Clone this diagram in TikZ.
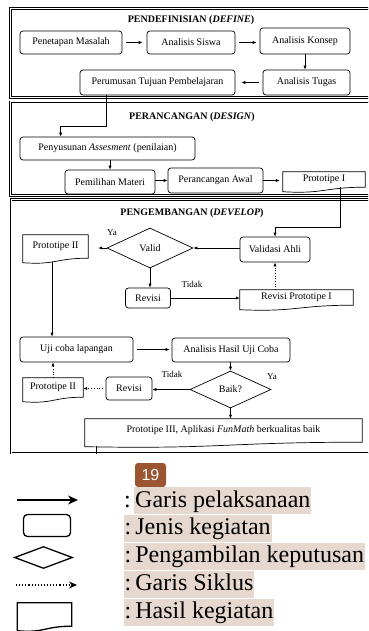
\documentclass[tikz,border=0pt]{standalone}
\usepackage{fontspec}
\setmainfont{Liberation Serif}
\newfontfamily\badgefont{Liberation Sans}
\usetikzlibrary{calc,shapes.geometric,arrows.meta}
\definecolor{badgebrown}{HTML}{9B5631}
\definecolor{hlbeige}{HTML}{E6D8CF}

\begin{document}
\begin{tikzpicture}[x=1pt,y=-1pt,
    >={Latex[length=4pt,width=3.2pt]},
    every node/.style={font=\fontsize{10}{12}\selectfont},
    kotak/.style={draw,rounded corners=3pt,line width=0.7pt,inner sep=1pt},
    putusan/.style={draw,diamond,line width=0.7pt,inner sep=0pt},
    hasil/.style={inner sep=1pt},
    bingkai/.style={draw,double,line width=0.9pt,double distance=1pt},
    judul/.style={font=\fontsize{10}{12}\selectfont\bfseries},
    ket/.style={font=\fontsize{9}{11}\selectfont},
    alur/.style={->,line width=0.7pt},
    siklus/.style={->,line width=0.7pt,dotted},
    hl/.style={fill=hlbeige,inner xsep=1pt,inner ysep=0pt,text height=20pt,text depth=7pt,anchor=west,font=\fontsize{24}{28}\selectfont}]
  \useasboundingbox (0,0) rectangle (368,631);
  \clip (0,0) rectangle (368,631);

  % bingkai tahap
  \draw[bingkai] (10.8,8.7) rectangle (390,97.5);
  \draw[bingkai] (10.8,102) rectangle (390,195.5);
  \draw[bingkai] (11,199.5) rectangle (390,453);

  % define
  \node[judul] (tDefine) at (191,20.5) {PENDEFINISIAN (\textit{DEFINE})};
  \node[kotak,minimum width=102pt,minimum height=23pt] (masalah) at (71,42.5) {Penetapan Masalah};
  \node[kotak,minimum width=88pt,minimum height=23pt] (siswa) at (191,42.5) {Analisis Siswa};
  \node[kotak,minimum width=90pt,minimum height=26pt] (konsep) at (305,41) {Analisis Konsep};
  \node[kotak,minimum width=87pt,minimum height=25pt] (tugas) at (306.5,82.5) {Analisis Tugas};
  \node[kotak,minimum width=155pt,minimum height=25pt] (tujuan) at (157.5,82.5) {Perumusan Tujuan Pembelajaran};
  \draw[alur,shorten <=4pt,shorten >=4pt] (masalah.east) -- (siswa.west);
  \draw[alur,shorten <=4pt,shorten >=3pt] (siswa.east) -- (siswa.east -| konsep.west);
  \draw[alur] (konsep.south) -- (konsep.south |- tugas.north);
  \draw[alur,shorten <=4pt,shorten >=6pt] (tugas.west) -- (tujuan.east);

  % design
  \node[judul] (tDesign) at (192,117) {PERANCANGAN (\textit{DESIGN})};
  \node[kotak,minimum width=175pt,minimum height=23pt] (asesmen) at (107.5,148.5) {Penyusunan \textit{Assesment} (penilaian)};
  \node[kotak,minimum width=90pt,minimum height=24pt] (materi) at (110,182) {Pemilihan Materi};
  \node[kotak,minimum width=95pt,minimum height=25pt] (awal) at (215.5,180.5) {Perancangan Awal};
  \node[hasil,minimum width=82pt,minimum height=15pt] (protoI) at (324,179.5) {Prototipe I};
  \coordinate (tujuanKaki) at ($(tujuan.south west)+(27,0)$);
  \draw[alur] (tujuanKaki) -- ++(0,31) -| ($(asesmen.north west)+(41,0)$);
  \draw[alur] (materi.north |- asesmen.south) -- (materi.north);
  \draw[alur] (awal.west -| materi.east) -- (awal.west);
  \draw[alur,shorten >=3pt] (awal.east) -- (awal.east -| protoI.west);

  % develop
  \node[judul] (tDevelop) at (192,213) {PENGEMBANGAN (\textit{DEVELOP})};
  \node[kotak,minimum width=70pt,minimum height=25pt] (validasi) at (275,249.5) {Validasi Ahli};
  \node[putusan,minimum width=86pt,minimum height=40pt] (valid) at (150,248) {Valid};
  \node[hasil,minimum width=65pt,minimum height=23pt] (protoIIa) at (55.5,246.5) {Prototipe II};
  \node[kotak,minimum width=45pt,minimum height=20pt] (revisiA) at (148,298) {Revisi};
  \node[hasil,minimum width=113pt,minimum height=15pt] (revProtoI) at (296.5,297.5) {Revisi Prototipe I};
  \node[kotak,minimum width=113pt,minimum height=25pt] (ujicoba) at (76.5,349.5) {Uji coba lapangan};
  \node[kotak,minimum width=118pt,minimum height=24pt] (hasilUji) at (231,350) {Analisis Hasil Uji Coba};
  \node[putusan,minimum width=81pt,minimum height=37pt] (baik) at (230.5,389.5) {Baik?};
  \node[kotak,minimum width=46pt,minimum height=23pt] (revisiB) at (129,388.5) {Revisi};
  \node[hasil,minimum width=60pt,minimum height=19pt] (protoIIb) at (53,387.5) {Prototipe II};
  \node[hasil,minimum width=277pt,minimum height=23pt] (protoIII) at (223.5,430.5) {Prototipe III, Aplikasi \textit{FunMath} berkualitas baik};
  \node[ket] (yaA) at (112,233) {Ya};
  \node[ket] (tidakA) at (192,284) {Tidak};
  \node[ket] (tidakB) at (172,374) {Tidak};
  \node[ket] (yaB) at (272,377) {Ya};

  \coordinate (protoIKaki) at ($(protoI.south)+(16,0)$);
  \draw[alur] (protoIKaki) -- ++(0,40) -| (validasi.north);
  \draw[alur] (valid.east -| validasi.west) -- (valid.east);
  \draw[alur,shorten >=10pt] (valid.west) -- (valid.west -| protoIIa.east);
  \draw[alur] (valid.south) -- (valid.south |- revisiA.north);
  \draw[alur] (revisiA.east) -- (revisiA.east -| revProtoI.west);
  \draw[siklus] (revProtoI.north -| validasi.south) -- (validasi.south);
  \coordinate (protoIIaKaki) at ($(protoIIa.south)+(-3.5,4)$);
  \draw[alur] (protoIIaKaki) -- (protoIIaKaki |- ujicoba.north);
  \draw[alur,shorten <=4pt,shorten >=2pt] (ujicoba.east) -- (ujicoba.east -| hasilUji.west);
  \draw[alur] (hasilUji.south -| baik.north) -- (baik.north);
  \draw[alur] (baik.west) -- (baik.west -| revisiB.east);
  \draw[siklus,shorten <=3pt] (revisiB.west) -- (revisiB.west -| protoIIb.east);
  \draw[siklus] (protoIIb.north) -- (protoIIb.north |- ujicoba.south);
  \draw[alur] (baik.south) -- (baik.south |- protoIII.north);
  \coordinate (protoIIIKaki) at ($(protoIII.south west)+(12,4)$);
  \draw[line width=0.7pt] (protoIIIKaki) -- ++(0,8);

  % keterangan
  \node[fill=badgebrown,rounded corners=3pt,text=white,minimum width=31pt,minimum height=24pt,inner sep=0pt,font=\badgefont\fontsize{16}{16}\selectfont] (halaman) at (150.5,475) {19};
  \coordinate (lgA1) at (17,500); \coordinate (lgA2) at (78,500);
  \draw[line width=1.4pt,-{Stealth[length=10pt,width=9pt]}] (lgA1) -- (lgA2);
  \node[draw,rounded corners=4pt,line width=1.3pt,minimum width=47pt,minimum height=22pt] (lgKotak) at (47,525.5) {};
  \node[draw,diamond,line width=1.3pt,minimum width=58pt,minimum height=22pt,inner sep=0pt] (lgPutusan) at (43.5,557.5) {};
  \coordinate (lgB1) at (16,585); \coordinate (lgB2) at (77,585);
  \draw[line width=1.1pt,dotted,-{Stealth[length=8pt,width=7pt]}] (lgB1) -- (lgB2);
  \node[inner sep=0pt,minimum width=54pt,minimum height=23pt] (lgHasil) at (44.5,614.5) {};

  % bentuk hasil kegiatan
  \foreach \n/\w in {protoI/0.7,protoIIa/0.7,revProtoI/0.7,protoIIb/0.7,protoIII/0.7,lgHasil/1.3}
    \draw[line width=\w pt] (\n.north west) -- (\n.north east) -- (\n.south east)
      .. controls (\n.south) and ($(\n.south)+(0,7)$) .. ($(\n.south west)+(0,4.5)$) -- cycle;

  \node[anchor=west,inner sep=0pt,font=\fontsize{24}{28}\selectfont] (titikA) at (124,502) {:};
  \node[hl] (lgTeksA) at (134,500.5) {Garis pelaksanaan};
  \foreach \n/\y/\t in {B/528/Jenis kegiatan,C/556/Pengambilan keputusan,D/584/Garis Siklus,E/612/Hasil kegiatan}
    \node[hl] (lgTeks\n) at (123.5,\y) {:\hspace{4pt}\t};
\end{tikzpicture}
\end{document}
